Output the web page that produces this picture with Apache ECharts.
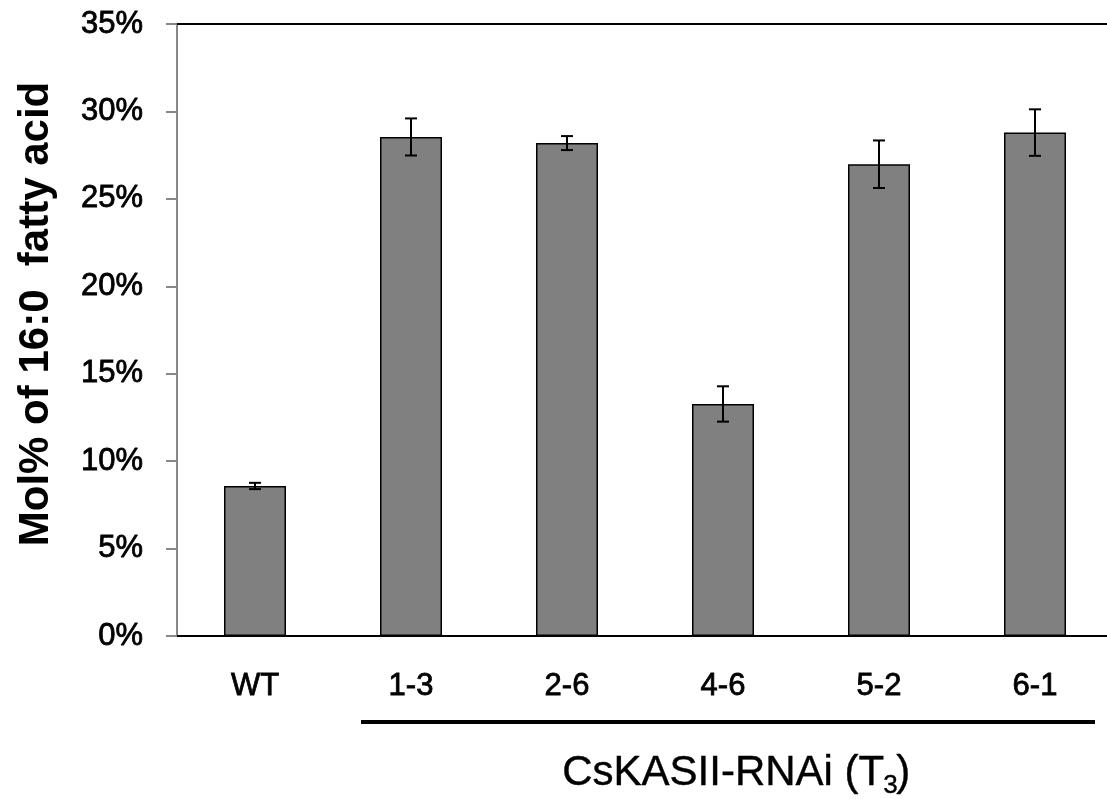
<!DOCTYPE html>
<html>
<head>
<meta charset="utf-8">
<script src="https://cdn.jsdelivr.net/npm/echarts@6.0.0/dist/echarts.min.js"></script>
<style>
  html, body { margin: 0; padding: 0; background: #fff; }
  #chart { width: 1107px; height: 799px; }
</style>
</head>
<body>
<div id="chart"></div>
<script>
// lines (mol% of 16:0)
var lines = ['WT', '1-3', '2-6', '4-6', '5-2', '6-1'];
var means = [8.58, 28.54, 28.19, 13.27, 26.98, 28.79];
var errs = [0.18, 1.06, 0.40, 1.01, 1.36, 1.33];
var yTicks = [0, 5, 10, 15, 20, 25, 30, 35];

var font = "'Liberation Sans', Arial, sans-serif";

var errData = [];
for (var i = 0; i < lines.length; i++) {
  errData.push([i, means[i] - errs[i], means[i] + errs[i]]);
}

var myChart = echarts.init(document.getElementById('chart'));

var option = {
  animation: false,
  textStyle: { fontFamily: font },
  grid: {
    left: 177,
    right: -6,
    top: 24,
    bottom: 163,
    outerBoundsMode: 'none'
  },
  xAxis: [
    {
      type: 'category',
      data: lines,
      axisLine: { lineStyle: { color: '#000', width: 2 } },
      axisTick: { show: false },
      axisLabel: {
        color: '#000',
        fontSize: 31,
        fontFamily: font,
        textBorderColor: '#000',
        textBorderWidth: 0.8,
        margin: 35
      }
    },
    {
      // top frame line
      type: 'category',
      data: lines,
      position: 'top',
      axisLine: { lineStyle: { color: '#000', width: 2 } },
      axisTick: { show: false },
      axisLabel: { show: false }
    }
  ],
  yAxis: {
    type: 'value',
    min: yTicks[0],
    max: yTicks[yTicks.length - 1],
    interval: 5,
    name: 'Mol% of 16:0  fatty acid',
    nameLocation: 'middle',
    nameGap: 120,
    nameTextStyle: {
      color: '#000',
      fontSize: 42,
      fontWeight: 'bold',
      fontFamily: font,
      padding: [0, 0, 0, 32]
    },
    axisLine: { show: true, lineStyle: { color: '#888', width: 2 } },
    axisTick: { show: true, length: 11, lineStyle: { color: '#888', width: 2 } },
    splitLine: { show: false },
    axisLabel: {
      color: '#000',
      fontSize: 31,
      fontFamily: font,
      textBorderColor: '#000',
      textBorderWidth: 0.8,
      margin: 34,
      formatter: '{value}%'
    }
  },
  graphic: [
    {
      type: 'line',
      shape: { x1: 361, y1: 722, x2: 1095, y2: 722 },
      style: { stroke: '#000', lineWidth: 4 }
    },
    {
      type: 'text',
      left: 562,
      top: 752,
      style: {
        text: 'CsKASII-RNAi (T',
        fill: '#000',
        stroke: '#000',
        lineWidth: 0.4,
        font: '42px ' + font
      }
    },
    {
      type: 'text',
      left: 883,
      top: 773,
      style: {
        text: '3',
        fill: '#000',
        stroke: '#000',
        lineWidth: 0.4,
        font: '26px ' + font
      }
    },
    {
      type: 'text',
      left: 896,
      top: 752,
      style: {
        text: ')',
        fill: '#000',
        stroke: '#000',
        lineWidth: 0.4,
        font: '42px ' + font
      }
    }
  ],
  series: [
    {
      type: 'bar',
      data: means,
      barWidth: 62,
      itemStyle: {
        color: '#808080',
        borderColor: '#000',
        borderWidth: 1.5
      }
    },
    {
      type: 'custom',
      data: errData,
      z: 10,
      renderItem: function (params, api) {
        var lo = api.coord([api.value(0), api.value(1)]);
        var hi = api.coord([api.value(0), api.value(2)]);
        var half = 6;
        var st = { stroke: '#000', lineWidth: 2 };
        return {
          type: 'group',
          children: [
            { type: 'line', shape: { x1: hi[0], y1: hi[1], x2: lo[0], y2: lo[1] }, style: st },
            { type: 'line', shape: { x1: hi[0] - half, y1: hi[1], x2: hi[0] + half, y2: hi[1] }, style: st },
            { type: 'line', shape: { x1: lo[0] - half, y1: lo[1], x2: lo[0] + half, y2: lo[1] }, style: st }
          ]
        };
      }
    }
  ]
};

myChart.setOption(option);
</script>
</body>
</html>
